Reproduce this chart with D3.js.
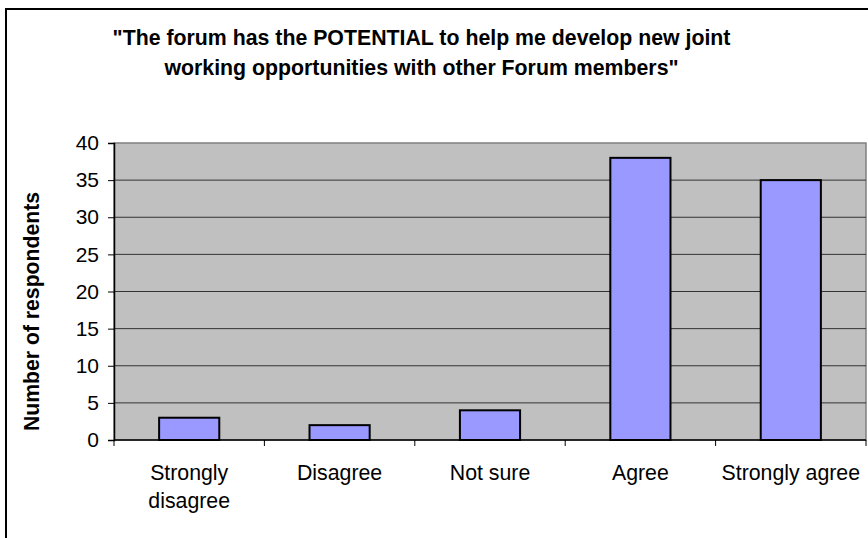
<!DOCTYPE html>
<html>
<head>
<meta charset="utf-8">
<script src="https://cdn.jsdelivr.net/npm/d3@7"></script>
<style>
  html, body { margin: 0; padding: 0; background: #fff; }
  svg { display: block; }
  text { font-family: Arial, "Liberation Sans", sans-serif; fill: #000; }
</style>
</head>
<body>
<svg id="chart" width="868" height="538"></svg>
<script>
// Survey responses
const categories = ["Strongly disagree", "Disagree", "Not sure", "Agree", "Strongly agree"];
const categoryLines = [["Strongly", "disagree"], ["Disagree"], ["Not sure"], ["Agree"], ["Strongly agree"]];
const respondents = [3, 2, 4, 38, 35];
const yTicks = [0, 5, 10, 15, 20, 25, 30, 35, 40];
const titleLines = [
  "\"The forum has the POTENTIAL to help me develop new joint",
  "working opportunities with other Forum members\""
];
const yAxisTitle = "Number of respondents";

const svg = d3.select("#chart");

// outer chart frame
svg.append("rect")
  .attr("x", 6).attr("y", 9)
  .attr("width", 880).attr("height", 560)
  .attr("fill", "#fff")
  .attr("stroke", "#000").attr("stroke-width", 2);

const plot = { left: 114, right: 866, top: 143, bottom: 440 };

const x = d3.scaleBand()
  .domain(categories)
  .range([plot.left, plot.right])
  .paddingInner(0.6)
  .paddingOuter(0.3);

const y = d3.scaleLinear()
  .domain([0, 40])
  .range([plot.bottom, plot.top]);

// plot background
svg.append("rect")
  .attr("x", plot.left).attr("y", plot.top)
  .attr("width", plot.right - plot.left).attr("height", plot.bottom - plot.top)
  .attr("fill", "#c0c0c0")
  .attr("stroke", "#808080").attr("stroke-width", 1.5);

// horizontal gridlines
svg.append("g")
  .selectAll("line")
  .data(yTicks.filter(d => d > 0 && d < 40))
  .join("line")
  .attr("x1", plot.left).attr("x2", plot.right)
  .attr("y1", d => y(d)).attr("y2", d => y(d))
  .attr("stroke", "#333").attr("stroke-width", 1);

// bars
svg.append("g")
  .selectAll("rect")
  .data(categories)
  .join("rect")
  .attr("x", d => x(d))
  .attr("y", (d, i) => y(respondents[i]))
  .attr("width", x.bandwidth())
  .attr("height", (d, i) => y(0) - y(respondents[i]))
  .attr("fill", "#9999ff")
  .attr("stroke", "#000").attr("stroke-width", 2);

// y axis
const yAxis = svg.append("g")
  .attr("transform", `translate(${plot.left},0)`)
  .call(d3.axisLeft(y).tickValues(yTicks).tickSize(6).tickPadding(9));
yAxis.select(".domain").attr("stroke", "#000").attr("stroke-width", 1.5);
yAxis.selectAll(".tick line").attr("stroke", "#000");
yAxis.selectAll(".tick text")
  .attr("font-size", 21)
  .attr("font-family", "Arial, 'Liberation Sans', sans-serif");

// x axis: ticks at category boundaries
const step = x.step();
const boundaries = d3.range(categories.length + 1).map(i => plot.left + i * step);
svg.append("line")
  .attr("x1", plot.left).attr("x2", plot.right)
  .attr("y1", plot.bottom).attr("y2", plot.bottom)
  .attr("stroke", "#000").attr("stroke-width", 1.5);
svg.append("g")
  .selectAll("line")
  .data(boundaries)
  .join("line")
  .attr("x1", d => d).attr("x2", d => d)
  .attr("y1", plot.bottom).attr("y2", plot.bottom + 6)
  .attr("stroke", "#000");

// category labels
const catLabels = svg.append("g")
  .selectAll("text")
  .data(categories)
  .join("text")
  .attr("x", d => x(d) + x.bandwidth() / 2)
  .attr("y", 480)
  .attr("text-anchor", "middle")
  .attr("font-size", 21.3);
catLabels.selectAll("tspan")
  .data((d, i) => categoryLines[i])
  .join("tspan")
  .attr("x", function () { return d3.select(this.parentNode).attr("x"); })
  .attr("dy", (d, i) => i === 0 ? 0 : 28)
  .text(d => d);

// y axis title
svg.append("text")
  .attr("transform", "translate(39,311.5) rotate(-90)")
  .attr("text-anchor", "middle")
  .attr("font-size", 21.2)
  .attr("font-weight", "bold")
  .text(yAxisTitle);

// chart title
svg.append("g")
  .selectAll("text")
  .data(titleLines)
  .join("text")
  .attr("x", 421.5)
  .attr("y", (d, i) => 45 + i * 30)
  .attr("text-anchor", "middle")
  .attr("font-size", 21.3)
  .attr("font-weight", "bold")
  .text(d => d);
</script>
</body>
</html>
